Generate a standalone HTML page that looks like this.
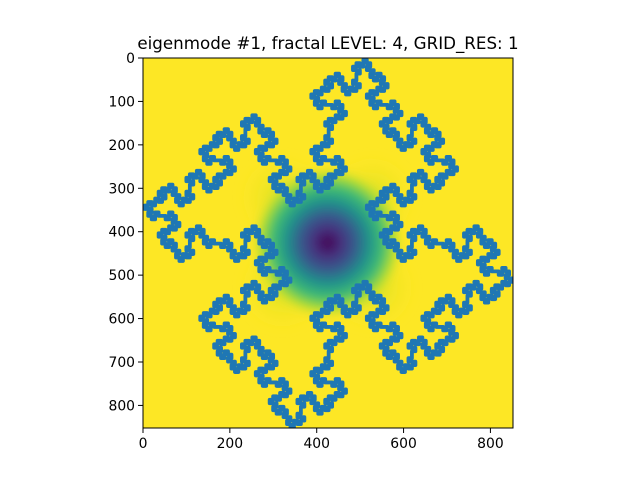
<!DOCTYPE html>
<html><head><meta charset="utf-8"><style>
body{margin:0;background:#fff}
svg{display:block;font-family:"DejaVu Sans","Liberation Sans",sans-serif}
</style></head><body>
<svg id="chart" width="640" height="480" viewBox="0 0 640 480">
<defs>
<clipPath id="clip"><rect x="143" y="58" width="370" height="370"/></clipPath>
<radialGradient id="mode" cx="0.5" cy="0.5" r="0.5">
<stop offset="0" stop-color="#440154"/>
<stop offset="0.18" stop-color="#46327e"/>
<stop offset="0.35" stop-color="#365c8d"/>
<stop offset="0.52" stop-color="#21918c"/>
<stop offset="0.7" stop-color="#3fbc73"/>
<stop offset="0.84" stop-color="#a5db36"/>
<stop offset="1" stop-color="#fde725" stop-opacity="0"/>
</radialGradient>
<radialGradient id="glow" cx="0.5" cy="0.5" r="0.5">
<stop offset="0" stop-color="#c8e020" stop-opacity="0.8"/>
<stop offset="1" stop-color="#fde725" stop-opacity="0"/>
</radialGradient>
<filter id="blur"><feGaussianBlur stdDeviation="4"/></filter>
</defs>
<text x="328" y="49" text-anchor="middle" font-size="16.7" fill="#000">eigenmode #1, fractal LEVEL: 4, GRID_RES: 1</text>
<g clip-path="url(#clip)">
<rect x="143" y="58" width="370" height="370" fill="#fde725"/>
<g id="heat" filter="url(#blur)"></g>
<path id="curve" fill="none" stroke="#1f77b4" stroke-width="3.8" stroke-linejoin="round" stroke-linecap="round"/>
</g>
<rect x="143" y="58" width="370" height="370" fill="none" stroke="#000" stroke-width="1"/>
<g id="xticks"></g>
<g id="yticks"></g>
</svg>
<script>
const xTicks = [0, 200, 400, 600, 800];
const yTicks = [0, 100, 200, 300, 400, 500, 600, 700, 800];
const axiom = "F+F+F+F";
const rule = "F+F-F-FF+F+F-F";
const iterations = 3;
const dataMin = 4, dataMax = 851;
const modeCenter = [425, 425];

const X0 = 143, Y0 = 58, PX = 370, DMAX = 852;
const sx = v => X0 + v / DMAX * PX;
const sy = v => Y0 + v / DMAX * PX;
const NS = "http://www.w3.org/2000/svg";

let s = axiom;
for (let i = 0; i < iterations; i++) s = s.replace(/F/g, rule);
let x = 0, y = 0, d = 0; const pts = [[0, 0]];
const dirs = [[1,0],[0,1],[-1,0],[0,-1]];
for (const c of s) {
  if (c === 'F') { x += dirs[d][0]; y += dirs[d][1]; pts.push([x, y]); }
  else if (c === '+') d = (d + 1) % 4;
  else if (c === '-') d = (d + 3) % 4;
}
let mnx = Infinity, mxx = -Infinity, mny = Infinity, mxy = -Infinity;
pts.forEach(p => { mnx = Math.min(mnx, p[0]); mxx = Math.max(mxx, p[0]); mny = Math.min(mny, p[1]); mxy = Math.max(mxy, p[1]); });
const sc = (dataMax - dataMin) / Math.max(mxx - mnx, mxy - mny);
let dstr = '';
pts.forEach((p, i) => {
  const dx = dataMin + (p[0] - mnx) * sc, dy = dataMin + (p[1] - mny) * sc;
  dstr += (i ? 'L' : 'M') + sx(dx).toFixed(2) + ' ' + sy(dy).toFixed(2);
});
document.getElementById('curve').setAttribute('d', dstr + 'Z');

const heat = document.getElementById('heat');
const cx = sx(modeCenter[0]), cy = sy(modeCenter[1]);
const glows = [[-1,-1],[1,-1],[1,1],[-1,1]];
glows.forEach(g => {
  const e = document.createElementNS(NS, 'circle');
  
  
  e.setAttribute('cx', cx + g[0] * 45); e.setAttribute('cy', cy + g[1] * 45);
  e.setAttribute('r', 45); e.setAttribute('fill', 'url(#glow)');
  heat.appendChild(e);
});
const core = document.createElementNS(NS, 'rect');


core.setAttribute('x', cx - 78); core.setAttribute('y', cy - 78);
core.setAttribute('width', 156); core.setAttribute('height', 156);
core.setAttribute('rx', 50);
core.setAttribute('fill', 'url(#mode)');
heat.appendChild(core);

const xg = document.getElementById('xticks');
xTicks.forEach(v => {
  const l = document.createElementNS(NS, 'line');
  
  
  l.setAttribute('x1', sx(v)); l.setAttribute('x2', sx(v));
  l.setAttribute('y1', 428); l.setAttribute('y2', 433); l.setAttribute('stroke', '#000');
  xg.appendChild(l);
  const t = document.createElementNS(NS, 'text');
  
  
  t.setAttribute('x', sx(v)); t.setAttribute('y', 448); t.setAttribute('text-anchor', 'middle');
  t.setAttribute('font-size', '13.9'); t.textContent = v;
  xg.appendChild(t);
});
const yg = document.getElementById('yticks');
yTicks.forEach(v => {
  const l = document.createElementNS(NS, 'line');
  
  
  l.setAttribute('x1', 138); l.setAttribute('x2', 143);
  l.setAttribute('y1', sy(v)); l.setAttribute('y2', sy(v)); l.setAttribute('stroke', '#000');
  yg.appendChild(l);
  const t = document.createElementNS(NS, 'text');
  
  
  t.setAttribute('x', 135); t.setAttribute('y', sy(v) + 5); t.setAttribute('text-anchor', 'end');
  t.setAttribute('font-size', '13.9'); t.textContent = v;
  yg.appendChild(t);
});
</script>
</body></html>
